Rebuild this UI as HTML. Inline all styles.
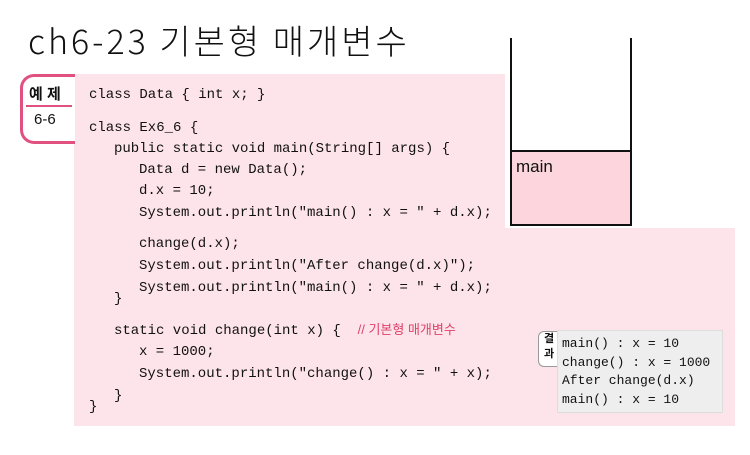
<!DOCTYPE html>
<html><head><meta charset="utf-8"><style>
body{margin:0;width:750px;height:455px;background:#fff;position:relative;overflow:hidden;font-family:"Liberation Sans","Noto Sans CJK KR",sans-serif}
.a{position:absolute}
.code{font-family:"Liberation Mono",monospace;font-size:14px;color:#111;white-space:pre;line-height:16px}
</style></head><body>
<div class="a" style="left:28px;top:18px;font-size:34px;color:#111;font-family:'Noto Sans CJK KR',sans-serif;font-weight:300;letter-spacing:3px;line-height:44px">ch6-23 기본형 매개변수</div>
<div class="a" style="left:74px;top:74px;width:661px;height:352px;background:#fde4ea"></div>
<div class="a" style="left:505px;top:38px;width:230px;height:190px;background:#fff"></div>
<div class="a" style="left:510px;top:38px;width:122px;height:188px;border-left:2px solid #111;border-right:2px solid #111;box-sizing:border-box"></div>
<div class="a" style="left:510px;top:150px;width:122px;height:76px;background:#fdd5dc;border:2px solid #111;box-sizing:border-box"></div>
<div class="a" style="left:516px;top:157px;font-size:17px;color:#111">main</div>
<div class="a" style="left:20px;top:74px;width:52px;height:64px;border:3px solid #e0517f;border-right:none;border-radius:14px 0 0 14px;background:#fff"></div>
<div class="a" style="left:26px;top:105px;width:46px;height:2px;background:#e0517f"></div>
<div class="a" style="left:29px;top:83px;font-size:15px;font-weight:bold;color:#111">예 제</div>
<div class="a" style="left:34px;top:111px;font-size:15px;color:#111">6-6</div>
<div class="a code" style="left:89px;top:87px">class Data { int x; }</div>
<div class="a code" style="left:89px;top:120px">class Ex6_6 {</div>
<div class="a code" style="left:114px;top:141px">public static void main(String[] args) {</div>
<div class="a code" style="left:139px;top:162px">Data d = new Data();</div>
<div class="a code" style="left:139px;top:183px">d.x = 10;</div>
<div class="a code" style="left:139px;top:205px">System.out.println("main() : x = " + d.x);</div>
<div class="a code" style="left:139px;top:236px">change(d.x);</div>
<div class="a code" style="left:139px;top:258px">System.out.println("After change(d.x)");</div>
<div class="a code" style="left:139px;top:280px">System.out.println("main() : x = " + d.x);</div>
<div class="a code" style="left:114px;top:291px">}</div>
<div class="a code" style="left:114px;top:322px">static void change(int x) {  <span style="color:#e0406a;font-family:'Liberation Sans','Noto Sans CJK KR',sans-serif;font-size:13px">// 기본형 매개변수</span></div>
<div class="a code" style="left:139px;top:344px">x = 1000;</div>
<div class="a code" style="left:139px;top:366px">System.out.println("change() : x = " + x);</div>
<div class="a code" style="left:114px;top:388px">}</div>
<div class="a code" style="left:89px;top:399px">}</div>
<div class="a" style="left:538px;top:331px;width:20px;height:34px;background:#fff;border:1px solid #999;border-right:none;border-radius:6px 0 0 6px;font-size:11px;line-height:15px;text-align:center;font-weight:bold;color:#111">결<br>과</div>
<div class="a code" style="left:557px;top:330px;width:166px;height:83px;background:#eeeeee;border:1px solid #ddd;box-sizing:border-box;padding:4px 0 0 4px;font-size:13px;line-height:18.5px">main() : x = 10
change() : x = 1000
After change(d.x)
main() : x = 10</div>
</body></html>
